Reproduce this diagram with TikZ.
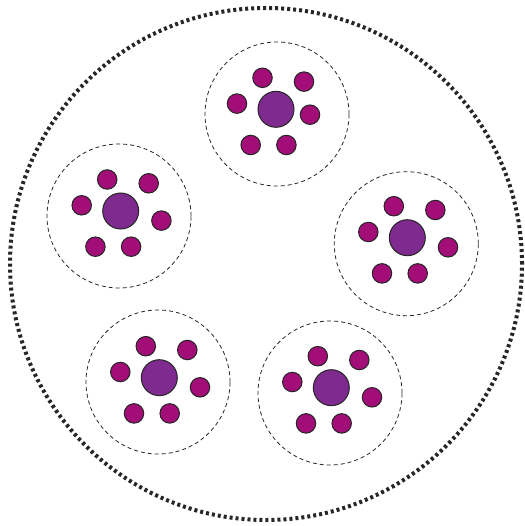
\documentclass[tikz,border=0pt]{standalone}
\usetikzlibrary{calc}
\definecolor{bigc}{HTML}{7E2A8E}
\definecolor{smallc}{HTML}{A20D78}
\tikzset{
  outerring/.style={draw=black!85, line width=4pt, dash pattern=on 3pt off 3pt},
  groupring/.style={draw=black!85, line width=0.8pt, dash pattern=on 4pt off 3pt},
  bigdot/.style={circle, draw=black!85, line width=1pt, fill=bigc, minimum size=36pt, inner sep=0pt},
  smalldot/.style={circle, draw=black!85, line width=1pt, fill=smallc, minimum size=19.5pt, inner sep=0pt},
}
\newcommand{\cluster}[6]{%
  % #1 name, #2,#3 ring centre, #4,#5 big centre, #6 offset of the right-hand dot
  \node[circle, minimum size=144pt, inner sep=0pt, groupring] (#1ring) at (#2,#3) {};
  \node[bigdot] (#1big) at (#4,#5) {};
  \node[smalldot] (#1a) at ($(#4,#5)+(-13.5,-31.5)$) {};
  \node[smalldot] (#1b) at ($(#4,#5)+(28,-27.7)$) {};
  \node[smalldot] (#1c) at ($(#4,#5)+(-39,-5.7)$) {};
  \node[smalldot] (#1d) at ($(#4,#5)+#6$) {};
  \node[smalldot] (#1e) at ($(#4,#5)+(-25.3,35.7)$) {};
  \node[smalldot] (#1f) at ($(#4,#5)+(10.4,35.7)$) {};
}
\begin{document}
\begin{tikzpicture}[x=1pt,y=-1pt]
\useasboundingbox (0,0) rectangle (524,526);
\node[circle, minimum size=512pt, inner sep=0pt, outerring] (outer) at (266,264) {};
\cluster{g1}{277}{114}{276}{109.3}{(34,5.4)}
\cluster{g2}{119}{216}{120.7}{211}{(40.7,9.6)}
\cluster{g3}{406.3}{243.7}{407.3}{237.7}{(40.7,9.6)}
\cluster{g4}{158}{382}{159.3}{377.7}{(40.7,9.6)}
\cluster{g5}{330}{393}{331.3}{387.7}{(40.7,9.6)}
\end{tikzpicture}
\end{document}
